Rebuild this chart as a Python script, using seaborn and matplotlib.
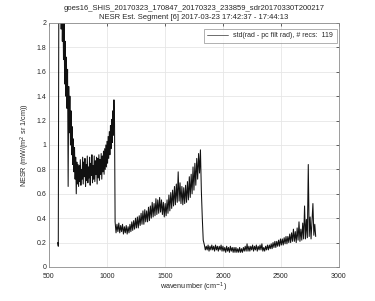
import numpy as np
import pandas as pd
import matplotlib
matplotlib.use("Agg")
import matplotlib.pyplot as plt
import seaborn as sns

# ---- data (wavenumber grid starts / steps, NESR values) ----
seg1_start, seg1_step = 575, 5
seg1_nesr = [0.20, 0.17, 2.40, 2.60, 2.10, 2.50, 1.95, 2.30, 1.85, 2.15,
             1.70, 2.00, 1.50, 1.85, 1.40, 1.72, 1.30, 1.62, 0.66, 1.48,
             1.10, 1.40, 1.00, 1.28, 0.92, 1.15, 0.84, 1.05, 0.78, 0.98,
             0.72, 0.90, 0.60, 0.86, 0.68, 0.84, 0.66, 0.83, 0.70, 0.88,
             0.67, 0.80, 0.72, 0.90, 0.68, 0.86, 0.74, 0.89, 0.66, 0.84,
             0.71, 0.91, 0.69, 0.82, 0.73, 0.90, 0.67, 0.85, 0.75, 0.92,
             0.69, 0.83, 0.72, 0.91, 0.70, 0.87, 0.76, 0.90, 0.68, 0.89,
             0.73, 0.92, 0.71, 0.88, 0.76, 0.93, 0.72, 0.91, 0.78, 0.95,
             0.76, 0.97, 0.80, 1.00, 0.82, 1.03, 0.85, 1.07, 0.89, 1.11,
             0.92, 1.16, 0.97, 1.21, 1.02, 1.28, 1.08, 1.37, 1.18]

seg2_start, seg2_step = 1070, 8
seg2_nesr = [0.37, 0.28, 0.35, 0.29, 0.36, 0.28, 0.34, 0.29, 0.35, 0.27,
             0.33, 0.28, 0.34, 0.27, 0.33, 0.28, 0.35, 0.29, 0.37, 0.30,
             0.38, 0.31, 0.40, 0.32, 0.41, 0.32, 0.42, 0.34, 0.44, 0.35,
             0.46, 0.35, 0.47, 0.37, 0.46, 0.37, 0.49, 0.38, 0.50, 0.40,
             0.53, 0.41, 0.52, 0.42, 0.56, 0.43, 0.55, 0.44, 0.57, 0.45,
             0.55, 0.43, 0.53, 0.41, 0.52, 0.42, 0.55, 0.44, 0.59, 0.46,
             0.61, 0.48, 0.63, 0.50, 0.66, 0.51, 0.68, 0.53, 0.78, 0.54,
             0.69, 0.52, 0.66, 0.51, 0.65, 0.52, 0.67, 0.53, 0.70, 0.55,
             0.74, 0.57, 0.76, 0.60, 0.82, 0.63, 0.85, 0.67, 0.89, 0.72,
             0.93, 0.77, 0.96, 0.62, 0.40, 0.22]

seg3_start, seg3_step = 1840, 8
seg3_nesr = [0.18, 0.14, 0.17, 0.14, 0.18, 0.13, 0.17, 0.14, 0.18, 0.14,
             0.17, 0.13, 0.18, 0.14, 0.17, 0.13, 0.17, 0.14, 0.18, 0.13,
             0.17, 0.13, 0.16, 0.12, 0.17, 0.13, 0.16, 0.12, 0.17, 0.13,
             0.16, 0.12, 0.16, 0.12, 0.16, 0.12, 0.15, 0.12, 0.16, 0.12,
             0.15, 0.12, 0.16, 0.13, 0.17, 0.13, 0.19, 0.13, 0.17, 0.13,
             0.17, 0.14, 0.18, 0.13, 0.17, 0.14, 0.18, 0.13, 0.17, 0.14,
             0.18, 0.14, 0.19, 0.13, 0.16, 0.13, 0.17, 0.14, 0.18, 0.14,
             0.18, 0.15, 0.19, 0.15, 0.20, 0.16, 0.21, 0.16, 0.21, 0.17,
             0.22, 0.17, 0.23, 0.18, 0.23, 0.18, 0.24, 0.19, 0.25, 0.19,
             0.25, 0.20, 0.27, 0.20, 0.28, 0.21, 0.31, 0.21, 0.29, 0.20,
             0.32, 0.22, 0.37, 0.21, 0.31, 0.22, 0.36, 0.23, 0.50, 0.23,
             0.39, 0.24, 0.84, 0.25, 0.41, 0.23, 0.37, 0.52, 0.26, 0.35,
             0.25]

x_ticks = [500, 1000, 1500, 2000, 2500, 3000]
y_ticks = [0, 0.2, 0.4, 0.6, 0.8, 1, 1.2, 1.4, 1.6, 1.8, 2]
y_tick_labels = ["0", "0.2", "0.4", "0.6", "0.8", "1", "1.2", "1.4", "1.6", "1.8", "2"]

title_lines = ["goes16_SHIS_20170323_170847_20170323_233859_sdr20170330T200217",
               "NESR Est. Segment [6] 2017-03-23 17:42:37 - 17:44:13"]
legend_label = "std(rad - pc filt rad), # recs:  119"


def grid(start, step, n):
    return start + step * np.arange(n)


wn = np.concatenate([grid(seg1_start, seg1_step, len(seg1_nesr)),
                     grid(seg2_start, seg2_step, len(seg2_nesr)),
                     grid(seg3_start, seg3_step, len(seg3_nesr))])
nesr = np.concatenate([seg1_nesr, seg2_nesr, seg3_nesr])
df = pd.DataFrame({"wavenumber": wn, "nesr": nesr, "series": legend_label})

sns.set_style("white")
plt.rcParams["font.family"] = ["Liberation Sans", "DejaVu Sans"]

fig = plt.figure(figsize=(3.75, 3.01), dpi=100)
ax = fig.add_axes([0.1307, 0.113, 0.773, 0.8106])

sns.lineplot(data=df, x="wavenumber", y="nesr", hue="series",
             palette=["#111111"], estimator=None, sort=False,
             linewidth=0.75, ax=ax)

ax.set_xlim(500, 3000)
ax.set_ylim(0, 2)
ax.set_xticks(x_ticks)
ax.set_xticklabels([str(t) for t in x_ticks])
ax.set_yticks(y_ticks)
ax.set_yticklabels(y_tick_labels)
ax.grid(True, color="#e6e6e6", linewidth=0.6)
ax.set_axisbelow(True)
ax.tick_params(axis="both", direction="in", length=2, width=0.5, labelsize=5,
               colors="#262626", top=True, right=True,
               labeltop=False, labelright=False)
ax.tick_params(axis="x", pad=4)
ax.tick_params(axis="y", pad=2)
for s in ax.spines.values():
    s.set_color("#8c8c8c")
    s.set_linewidth(0.6)

ax.set_xlabel("wavenumber (cm$^{-1}$)", fontsize=5.2, color="#262626", labelpad=1)
ax.set_ylabel("NESR (mW/(m$^2$ sr 1/cm))", fontsize=5.2, color="#262626", labelpad=3)
ax.set_title(title_lines[0] + "\n" + title_lines[1], fontsize=5.5,
             color="#262626", pad=3, linespacing=1.3)

leg = ax.legend(loc="upper right", fontsize=5, frameon=True, fancybox=False,
                borderpad=0.5, handlelength=3.0, handletextpad=0.8,
                bbox_to_anchor=(1.0, 0.985), borderaxespad=0.3)
leg.get_frame().set_edgecolor("#8c8c8c")
leg.get_frame().set_linewidth(0.6)
for h in leg.get_lines():
    h.set_color("#555555")
    h.set_linewidth(0.6)

fig.savefig("out.png", dpi=100)
